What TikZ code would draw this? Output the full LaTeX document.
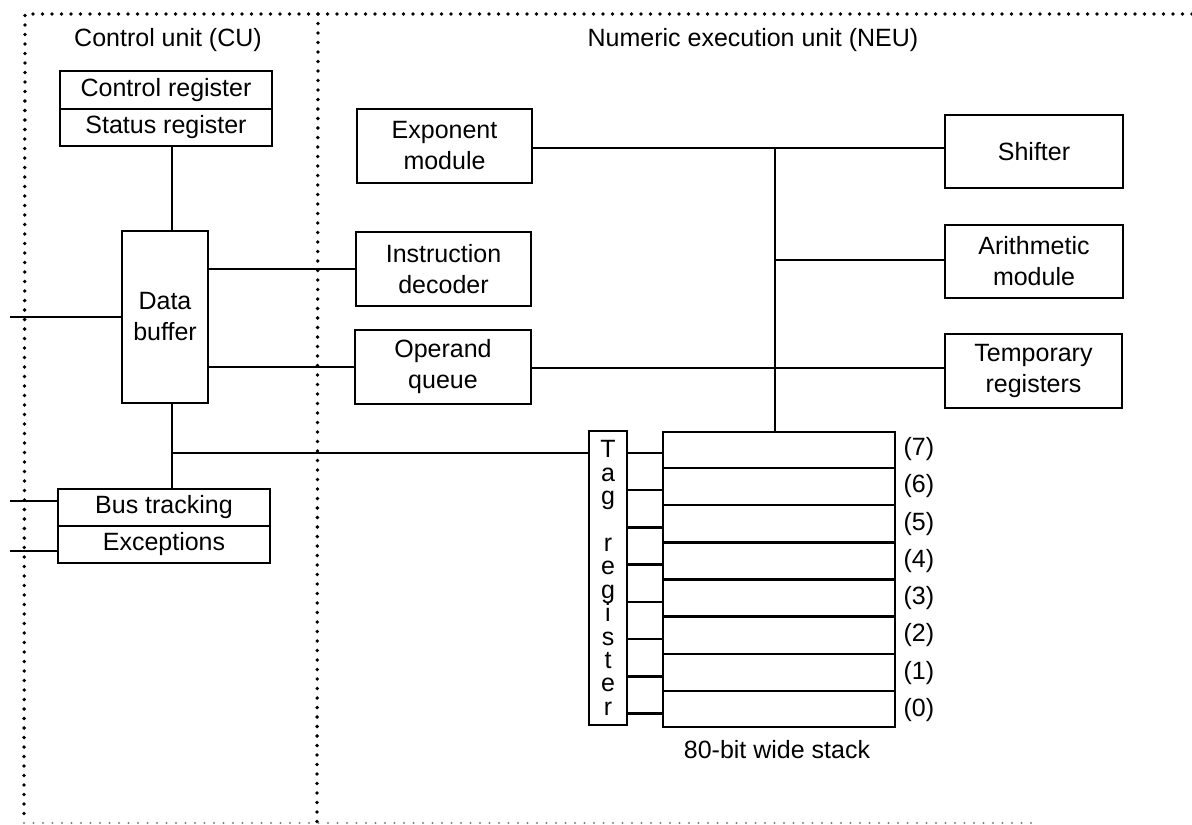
\documentclass[tikz,border=0pt]{standalone}
\usepackage{fontspec}
\setmainfont{Liberation Sans}
\usetikzlibrary{calc}
\newcommand\diagfont{\fontsize{25}{31}\selectfont}
\begin{document}
\begin{tikzpicture}[x=1pt,y=-1pt,
  box/.style={draw, line width=2.8pt, inner sep=0pt, align=center, font=\diagfont},
  wire/.style={line width=2.6pt},
  lbl/.style={inner sep=0pt, font=\diagfont},
  border/.style={line width=3.8pt, line cap=round, dash pattern=on 0pt off 9.5pt}]
\useasboundingbox (0,0) rectangle (1192,825);
% unit borders
\draw[border] (1192,14) -- (25,14) -- (24,822);
\draw[border] (318,14) -- (317,822);
\draw[border, gray, line width=2.4pt] (24,823) -- (1040,823);
% titles
\node[lbl] (cutitle) at (168,40) {Control unit (CU)};
\node[lbl] (neutitle) at (753,40) {Numeric execution unit (NEU)};
% control unit
\node[box, minimum width=212, minimum height=38] (ctrl) at (166,90) {Control register};
\node[box, minimum width=212, minimum height=37] (stat) at (166,127.5) {Status register};
\node[box, minimum width=86, minimum height=172] (buf) at (165,317) {Data\\buffer};
\node[box, minimum width=212, minimum height=37] (bus) at (164,507.5) {Bus tracking};
\node[box, minimum width=212, minimum height=37] (exc) at (164,544.5) {Exceptions};
% NEU modules
\node[box, minimum width=175, minimum height=74] (expo) at (444.5,146) {Exponent\\module};
\node[box, minimum width=175, minimum height=74] (idec) at (443.5,269) {Instruction\\decoder};
\node[box, minimum width=176, minimum height=74] (opq) at (443,367) {Operand\\queue};
\node[box, minimum width=178, minimum height=73] (shift) at (1034,151.5) {Shifter};
\node[box, minimum width=178, minimum height=73] (arith) at (1034,261.5) {Arithmetic\\module};
\node[box, minimum width=177, minimum height=74] (temp) at (1033.5,371) {Temporary\\registers};
% tag register and stack
\node[box, minimum width=38, minimum height=294,
  font={\fontsize{25}{23.4}\selectfont\lineskiplimit=-20pt\lineskip=0pt}]
  (tag) at (608,578) {T\\a\\g\\\mbox{}\\r\\e\\g\\i\\s\\t\\e\\r};
\node[box, minimum width=232, minimum height=295] (stack) at (779,579.5) {};
\node[lbl] (stacklbl) at (777,750) {80-bit wide stack};
\foreach \k in {1,...,7}
  \draw[wire] ($(stack.north west)!\k/8!(stack.south west)$) -- ($(stack.north east)!\k/8!(stack.south east)$);
\foreach \k/\n in {0/7,1/6,2/5,3/4,4/3,5/2,6/1,7/0} {
  \coordinate (s\k) at ($(stack.north west)!{(\k+0.6)/8}!(stack.south west)$);
  \draw[wire] (tag.east |- s\k) -- (s\k);
  \node[lbl, anchor=west] (r\n) at ($(stack.north east)!{(\k+0.5)/8}!(stack.south east) + (7,0)$) {(\n)};
}
% connector coordinates
\coordinate (v) at (172,0);
\coordinate (j) at (172,453);
\coordinate (b1) at (775,148);
\coordinate (b2) at (775,260);
\coordinate (b3) at (775,368);
\coordinate (in0) at (10,317);
\coordinate (in1) at (10,501);
\coordinate (in2) at (10,551);
% control unit connectors
\draw[wire] (stat.south -| v) -- (buf.north -| v);
\draw[wire] (buf.south -| v) -- (bus.north -| v);
\draw[wire] (j) -- (j -| tag.west);
\draw[wire] (in0) -- (buf.west);
\draw[wire] (in1) -- (in1 -| bus.west);
\draw[wire] (in2) -- (in2 -| exc.west);
\draw[wire] (buf.east |- idec.west) -- (idec.west);
\draw[wire] (buf.east |- opq.west) -- (opq.west);
% NEU bus
\draw[wire] (expo.east |- b1) -- (b1 -| shift.west);
\draw[wire] (b1) -- (b1 |- stack.north);
\draw[wire] (b2) -- (b2 -| arith.west);
\draw[wire] (opq.east |- b3) -- (b3 -| temp.west);
\end{tikzpicture}
\end{document}
